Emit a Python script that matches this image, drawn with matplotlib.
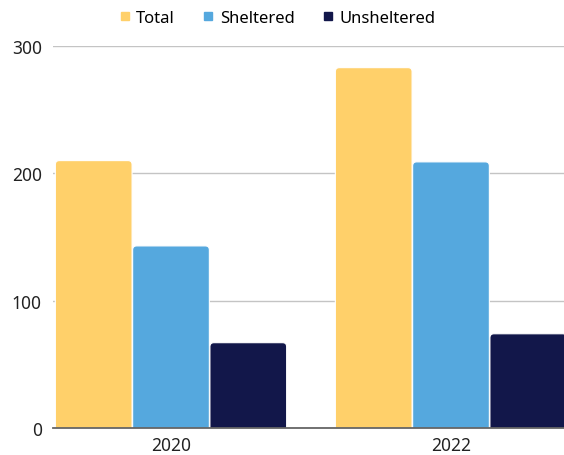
import matplotlib.pyplot as plt
from matplotlib.patches import FancyBboxPatch
from matplotlib.lines import Line2D
import numpy as np

plt.rcParams['font.family'] = ['Noto Sans', 'DejaVu Sans']

years = ["2020", "2022"]
series = ["Total", "Sheltered", "Unsheltered"]
total = [210, 283]
sheltered = [143, 209]
unsheltered = [67, 74]
colors = ["#FFD06A", "#55A8DE", "#12174A"]

fig = plt.figure(figsize=(5.64, 4.56), dpi=100)
ax = fig.add_axes([53 / 564, 27 / 456, 1 - 53 / 564, 382 / 456])

x = np.arange(len(years))
width = 0.274
step = 0.276
# px per data unit, used to keep the corners round
px_x = 280
px_y = 382 / 300
radius_px = 4
aspect = (radius_px / px_y) / (radius_px / px_x)

for i, (name, vals) in enumerate(zip(series, [total, sheltered, unsheltered])):
    for xi, v in zip(x, vals):
        left = xi + (i - 1) * step - width / 2
        patch = FancyBboxPatch(
            (left, -10), width, v + 10,
            boxstyle=f"round,pad=0,rounding_size={radius_px / px_x}",
            mutation_aspect=aspect,
            facecolor=colors[i], edgecolor="white", linewidth=0.8,
            zorder=3,
        )
        ax.add_patch(patch)

ax.set_xlim(-118 / 280, 1 + 113 / 280)
ax.set_ylim(0, 300)
ax.set_yticks([0, 100, 200, 300])
ax.set_xticks(x)
ax.set_xticklabels(years)
ax.tick_params(axis="both", length=0, labelsize=12.5, colors="#222222")
ax.tick_params(axis="y", pad=8)
ax.tick_params(axis="x", pad=6)
ax.grid(axis="y", color="#c4c4c4", linewidth=1, zorder=0)
for s in ["top", "right", "left"]:
    ax.spines[s].set_visible(False)
ax.spines["bottom"].set_color("#666666")
ax.spines["bottom"].set_linewidth(1.3)
ax.spines["bottom"].set_zorder(5)

handles = [Line2D([], [], marker="s", linestyle="", markersize=6,
                  markerfacecolor=c, markeredgecolor=c) for c in colors]
fig.legend(handles, series, loc="center", bbox_to_anchor=(276 / 564, 1 - 19 / 456),
           ncol=3, frameon=False, fontsize=12, handletextpad=0.2,
           columnspacing=1.5, handlelength=1.0)

fig.savefig("out.png", dpi=100)
